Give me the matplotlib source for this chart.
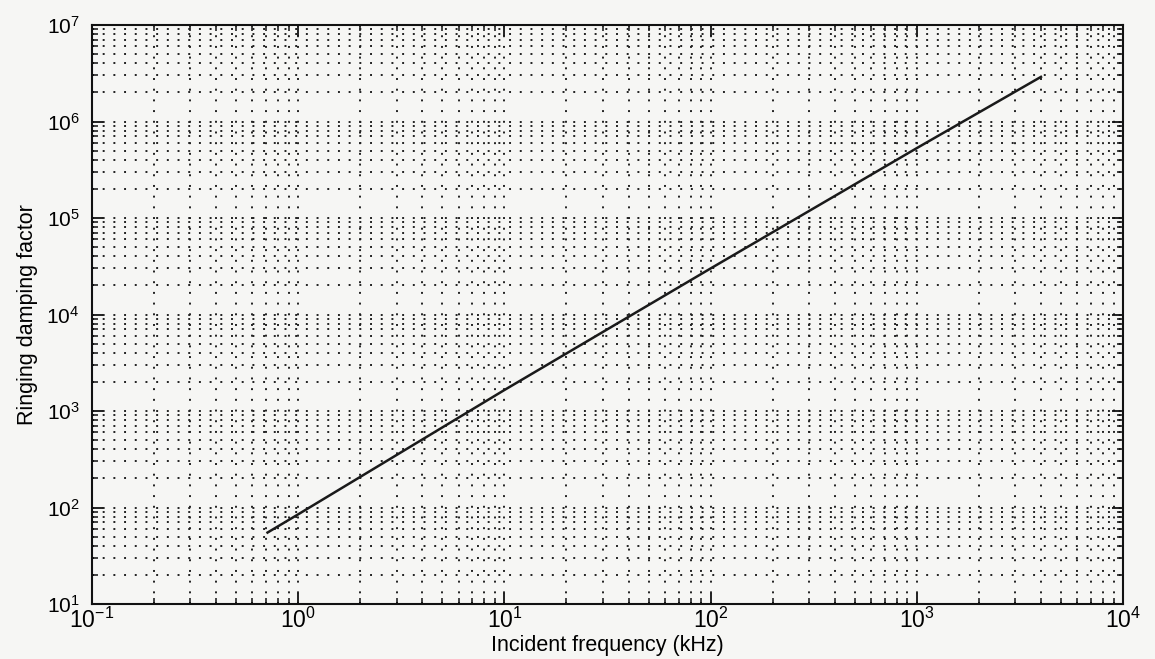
import matplotlib
matplotlib.use("Agg")
import matplotlib.pyplot as plt
from matplotlib.ticker import LogLocator, NullFormatter

# Data
freq_khz = [0.71, 1.0, 10.0, 100.0, 1000.0, 4000.0]
damping = [55.0, 85.0, 1650.0, 3.0e4, 5.3e5, 2.9e6]

x_label = "Incident frequency (kHz)"
y_label = "Ringing damping factor"

plt.rcParams['font.family'] = ['Liberation Sans', 'DejaVu Sans']
plt.rcParams['mathtext.fontset'] = 'custom'
plt.rcParams['mathtext.rm'] = 'Liberation Sans'
plt.rcParams['mathtext.it'] = 'Liberation Sans:italic'
plt.rcParams['mathtext.bf'] = 'Liberation Sans:bold'

bg = '#f6f6f4'
fig = plt.figure(figsize=(11.55, 6.59), dpi=100, facecolor=bg)
ax = fig.add_axes([92/1155, 1 - 604/659, (1123-92)/1155, (604-25)/659])
ax.set_facecolor(bg)

ax.loglog(freq_khz, damping, color='#1a1a1a', linewidth=1.8, zorder=3)

ax.set_xlim(1e-1, 1e4)
ax.set_ylim(1e1, 1e7)

ax.xaxis.set_major_locator(LogLocator(base=10, numticks=20))
ax.yaxis.set_major_locator(LogLocator(base=10, numticks=20))
ax.xaxis.set_minor_locator(LogLocator(base=10, subs=range(2, 10), numticks=50))
ax.yaxis.set_minor_locator(LogLocator(base=10, subs=range(2, 10), numticks=50))
ax.xaxis.set_minor_formatter(NullFormatter())
ax.yaxis.set_minor_formatter(NullFormatter())

grid_style = dict(color='#222222', linestyle=(0, (1.0, 4.5)), linewidth=1.4)
ax.grid(True, which='major', **grid_style)
ax.grid(True, which='minor', **grid_style)
ax.set_axisbelow(True)

ax.tick_params(which='both', direction='in', top=True, right=True,
               color='#111111')
ax.tick_params(which='major', length=8, width=1.3)
ax.tick_params(which='minor', length=4.5, width=1.1)
ax.tick_params(axis='x', which='major', pad=3, labelsize=16.5)
ax.tick_params(axis='y', which='major', pad=9, labelsize=15)

for s in ax.spines.values():
    s.set_linewidth(1.5)
    s.set_color('#111111')

ax.set_xlabel(x_label, fontsize=15.5, labelpad=0)
ax.set_ylabel(y_label, fontsize=15.5, labelpad=6)
ax.xaxis.set_label_coords(0.5, -(635 - 604) / (604 - 25))

fig.savefig('out.png', dpi=100, facecolor=bg)
